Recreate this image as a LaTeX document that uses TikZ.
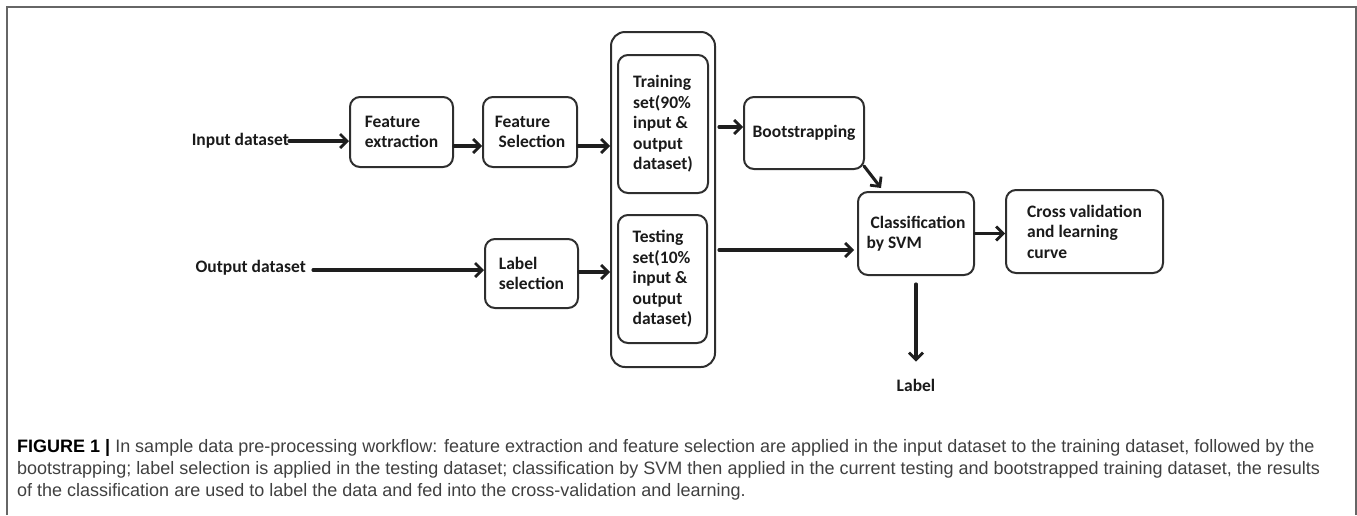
\documentclass[tikz,border=0pt]{standalone}
\usepackage{fontspec}
\setmainfont{Carlito}
\newfontfamily\captionfont{Liberation Sans}
\usetikzlibrary{arrows.meta, calc}

\begin{document}
\begin{tikzpicture}
		[x=1pt,y=-1pt,line cap=round,
		%Styles
		process box/.style={draw=boxline,line width=2pt,rounded corners=10pt,align=left,inner sep=0pt,
			font=\bfseries\fontsize{17.5}{20.5}\selectfont,text=labeltext},
		plain text/.style={inner sep=0pt,font=\bfseries\fontsize{17.5}{20.5}\selectfont,text=labeltext},
		flow arrow/.style={line width=3.1pt,draw=arrowline,-{Straight Barb[length=7pt,width=14pt,line width=2.8pt]}},
		caption text/.style={inner sep=0pt,align=left,text=captiongray,
			font=\captionfont\fontsize{18}{22}\selectfont}
		]
		
		%Colors
		\definecolor{boxline}{HTML}{2E2E2E}
		\definecolor{arrowline}{HTML}{1E1E1E}
		\definecolor{labeltext}{HTML}{1A1A1A}
		\definecolor{captiongray}{HTML}{404040}
		\definecolor{framegray}{HTML}{666666}
		
		\useasboundingbox (0,0) rectangle (1357,515);
		
		%Frame round the figure
		\draw[framegray,line width=2pt,line cap=butt] (7,515) -- (7,6.5) -- (1356,6.5) -- (1356,515);
		
		%The graphic
		\node[process box,rounded corners=14pt,minimum width=104pt,minimum height=335pt] (split) at (663,199.5) {};
		\node[process box,minimum width=90pt,minimum height=138pt] (train) at (663,124) {Training\\set(90\%\\input \&\\output\\dataset)};
		\node[process box,minimum width=89pt,minimum height=128pt] (test) at (662.5,279) {Testing\\set(10\%\\input \&\\output\\dataset)};
		
		\node[process box,minimum width=103pt,minimum height=70pt] (featext) at (401.5,132) {Feature\\extraction};
		\node[process box,minimum width=94pt,minimum height=70pt] (featsel) at (530,132) {Feature\\\ Selection};
		\node[process box,minimum width=93pt,minimum height=69pt] (labsel) at (531.5,273.5) {Label\\selection};
		\node[process box,minimum width=120pt,minimum height=72pt] (boot) at (804,133) {Bootstrapping};
		\node[process box,minimum width=116pt,minimum height=83pt] (svm) at (916,233.5) {\ Classification\\by SVM};
		\node[process box,minimum width=157pt,minimum height=83pt] (cross) at (1084.5,231.5) {Cross validation\\and learning\\curve};
		
		\node[plain text,anchor=east] (input) at (289,141) {Input dataset};
		\node[plain text,anchor=east] (output) at (306,268) {Output dataset};
		\node[plain text] (label) at (916,385) {Label};
		
		%Connectors
		\draw[flow arrow] (input.east) -- (input.east -| featext.west);
		\draw[flow arrow] ([yshift=-14pt]featext.east) -- ([yshift=-14pt]featext.east -| featsel.west);
		\draw[flow arrow] ([yshift=-14pt]featsel.east) -- ([yshift=-14pt]featsel.east -| split.west);
		\draw[flow arrow] ([xshift=7pt,yshift=-2pt]output.east) -- ([yshift=-2pt]output.east -| labsel.west);
		\draw[flow arrow] ([yshift=1.5pt]labsel.east) -- ([yshift=1.5pt]labsel.east -| split.west);
		\draw[flow arrow] ([xshift=3pt,yshift=6pt]boot.west -| split.east) -- ([yshift=6pt]boot.west);
		\draw[flow arrow] ([xshift=3pt,yshift=-16.5pt]svm.west -| split.east) -- ([xshift=-3pt,yshift=-16.5pt]svm.west);
		\draw[flow arrow] ([xshift=-1pt,yshift=4pt]boot.south east) -- ([xshift=24pt,yshift=3pt]svm.north west);
		\draw[flow arrow] (svm.east) -- (svm.east -| cross.west);
		\draw[flow arrow] ([yshift=-8pt]svm.south) -- ([yshift=17pt]label.north);
		
		%Caption
		\node[caption text,anchor=west] (caption) at (17,470)
			{{\color{black}\bfseries FIGURE 1 |} In sample data pre-processing workflow: feature extraction and feature selection are applied in the input dataset to the training dataset, followed by the\\
			bootstrapping; label selection is applied in the testing dataset; classification by SVM then applied in the current testing and bootstrapped training dataset, the results\\
			of the classification are used to label the data and fed into the cross-validation and learning.};
		
	\end{tikzpicture}
\end{document}
